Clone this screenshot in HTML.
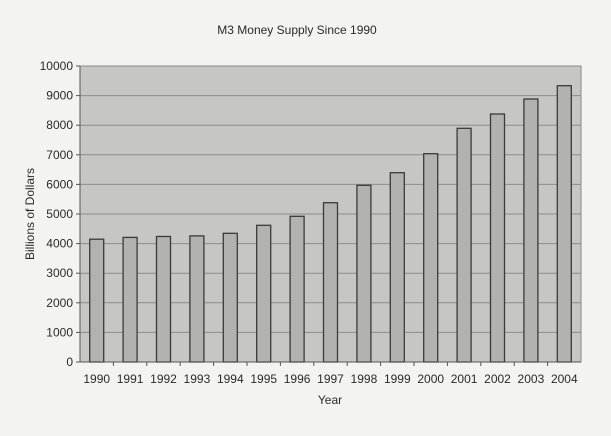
<!DOCTYPE html>
<html><head><meta charset="utf-8"><style>
html,body{margin:0;padding:0;background:#f3f3f1;}
svg{display:block;font-family:"Liberation Sans",Arial,sans-serif;}
</style></head><body>
<svg width="611" height="436" viewBox="0 0 611 436" xmlns="http://www.w3.org/2000/svg">
<rect width="611" height="436" fill="#f3f3f1"/>
<text x="297" y="34" font-size="12" text-anchor="middle" fill="#2a2a2a">M3 Money Supply Since 1990</text>
<rect x="80" y="66" width="501" height="296" fill="#c6c6c4" stroke="#8a8a8a" stroke-width="1"/>
<g stroke="#8c8c8c" stroke-width="1">
<line x1="80" x2="581" y1="95.6" y2="95.6"/>
<line x1="80" x2="581" y1="125.2" y2="125.2"/>
<line x1="80" x2="581" y1="154.8" y2="154.8"/>
<line x1="80" x2="581" y1="184.4" y2="184.4"/>
<line x1="80" x2="581" y1="214" y2="214"/>
<line x1="80" x2="581" y1="243.6" y2="243.6"/>
<line x1="80" x2="581" y1="273.2" y2="273.2"/>
<line x1="80" x2="581" y1="302.8" y2="302.8"/>
<line x1="80" x2="581" y1="332.4" y2="332.4"/>
</g>
<g fill="#b2b2b0" stroke="#3a3a3a" stroke-width="1.3">
<rect x="89.7" y="239.2" width="14" height="122.8"/>
<rect x="123.1" y="237.4" width="14" height="124.6"/>
<rect x="156.5" y="236.5" width="14" height="125.5"/>
<rect x="189.9" y="235.9" width="14" height="126.1"/>
<rect x="223.3" y="233.3" width="14" height="128.7"/>
<rect x="256.7" y="225.3" width="14" height="136.7"/>
<rect x="290.1" y="216.3" width="14" height="145.7"/>
<rect x="323.5" y="202.7" width="14" height="159.3"/>
<rect x="356.9" y="185.3" width="14" height="176.7"/>
<rect x="390.3" y="172.7" width="14" height="189.3"/>
<rect x="423.7" y="153.7" width="14" height="208.3"/>
<rect x="457.1" y="128.3" width="14" height="233.7"/>
<rect x="490.5" y="114" width="14" height="248"/>
<rect x="523.9" y="99" width="14" height="263"/>
<rect x="557.3" y="85.7" width="14" height="276.3"/>
</g>
<line x1="80" x2="581" y1="362" y2="362" stroke="#555" stroke-width="1"/>
<line x1="80" x2="80" y1="66" y2="362" stroke="#555" stroke-width="1"/>
<g stroke="#555" stroke-width="1">
<line x1="76" x2="80" y1="66" y2="66"/><line x1="76" x2="80" y1="95.6" y2="95.6"/><line x1="76" x2="80" y1="125.2" y2="125.2"/><line x1="76" x2="80" y1="154.8" y2="154.8"/><line x1="76" x2="80" y1="184.4" y2="184.4"/><line x1="76" x2="80" y1="214" y2="214"/><line x1="76" x2="80" y1="243.6" y2="243.6"/><line x1="76" x2="80" y1="273.2" y2="273.2"/><line x1="76" x2="80" y1="302.8" y2="302.8"/><line x1="76" x2="80" y1="332.4" y2="332.4"/><line x1="76" x2="80" y1="362" y2="362"/>
<line x1="113.4" x2="113.4" y1="362" y2="366"/><line x1="146.8" x2="146.8" y1="362" y2="366"/><line x1="180.2" x2="180.2" y1="362" y2="366"/><line x1="213.6" x2="213.6" y1="362" y2="366"/><line x1="247" x2="247" y1="362" y2="366"/><line x1="280.4" x2="280.4" y1="362" y2="366"/><line x1="313.8" x2="313.8" y1="362" y2="366"/><line x1="347.2" x2="347.2" y1="362" y2="366"/><line x1="380.6" x2="380.6" y1="362" y2="366"/><line x1="414" x2="414" y1="362" y2="366"/><line x1="447.4" x2="447.4" y1="362" y2="366"/><line x1="480.8" x2="480.8" y1="362" y2="366"/><line x1="514.2" x2="514.2" y1="362" y2="366"/><line x1="547.6" x2="547.6" y1="362" y2="366"/>
</g>
<g font-size="12" text-anchor="end" fill="#2a2a2a">
<text x="73" y="70">10000</text><text x="73" y="99.6">9000</text><text x="73" y="129.2">8000</text><text x="73" y="158.8">7000</text><text x="73" y="188.4">6000</text><text x="73" y="218">5000</text><text x="73" y="247.6">4000</text><text x="73" y="277.2">3000</text><text x="73" y="306.8">2000</text><text x="73" y="336.4">1000</text><text x="73" y="366">0</text>
</g>
<g font-size="12" text-anchor="middle" fill="#2a2a2a">
<text x="96.7" y="383">1990</text><text x="130.1" y="383">1991</text><text x="163.5" y="383">1992</text><text x="196.9" y="383">1993</text><text x="230.3" y="383">1994</text><text x="263.7" y="383">1995</text><text x="297.1" y="383">1996</text><text x="330.5" y="383">1997</text><text x="363.9" y="383">1998</text><text x="397.3" y="383">1999</text><text x="430.7" y="383">2000</text><text x="464.1" y="383">2001</text><text x="497.5" y="383">2002</text><text x="530.9" y="383">2003</text><text x="564.3" y="383">2004</text>
</g>
<text x="330" y="404" font-size="12" text-anchor="middle" fill="#2a2a2a">Year</text>
<text transform="translate(34,214) rotate(-90)" font-size="12" text-anchor="middle" fill="#2a2a2a">Billions of Dollars</text>
</svg>
</body></html>
